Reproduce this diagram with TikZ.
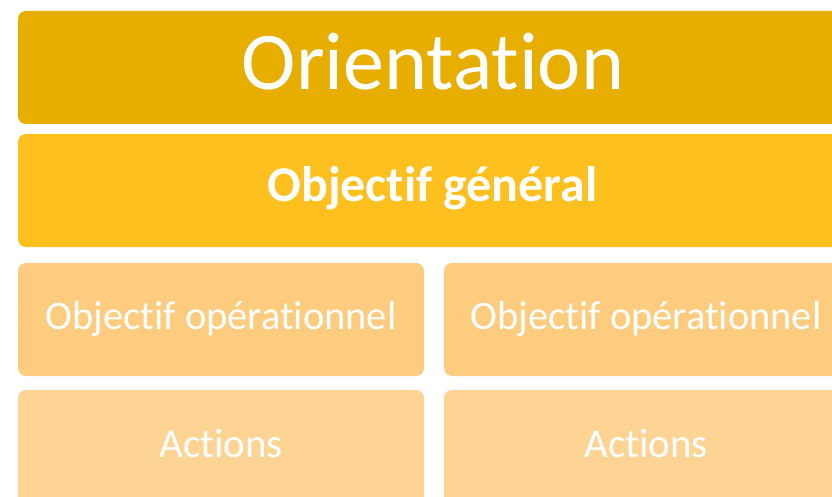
\documentclass[tikz,border=0pt]{standalone}
\usepackage{fontspec}
\setmainfont{Carlito}[RawFeature={-liga;-clig;-dlig}]
\definecolor{corient}{HTML}{E7AE00}
\definecolor{cgen}{HTML}{FEC01E}
\definecolor{cop}{HTML}{FECC7E}
\definecolor{cact}{HTML}{FED495}
\begin{document}
\begin{tikzpicture}[x=1pt,y=-1pt,
  box/.style={rounded corners=8pt},
  lbl/.style={anchor=base,text=white,inner sep=0pt}]
\useasboundingbox (0,0) rectangle (832,497);
\fill[white] (0,0) rectangle (832,497);
\fill[corient,box] (18,11) rectangle (870,124);
\fill[cgen,box] (18,134) rectangle (870,247);
\fill[cop,box] (18,263) rectangle (424,376);
\fill[cop,box] (444,263) rectangle (870,376);
\fill[cact,box] (18,390) rectangle (424,540);
\fill[cact,box] (444,390) rectangle (870,540);
\node[lbl,font=\fontsize{82}{90}\selectfont] (orient) at (433,90) {Orientation};
\node[lbl,font=\fontsize{50}{56}\selectfont\bfseries] (gen) at (432.5,201) {Objectif général};
\node[lbl,font=\fontsize{40.5}{46}\selectfont] (op1) at (221,329) {Objectif opérationnel};
\node[lbl,font=\fontsize{40.5}{46}\selectfont] (op2) at (646,329) {Objectif opérationnel};
\node[lbl,font=\fontsize{41}{46}\selectfont] (act1) at (221,457) {Actions};
\node[lbl,font=\fontsize{41}{46}\selectfont] (act2) at (646,457) {Actions};
\end{tikzpicture}
\end{document}
